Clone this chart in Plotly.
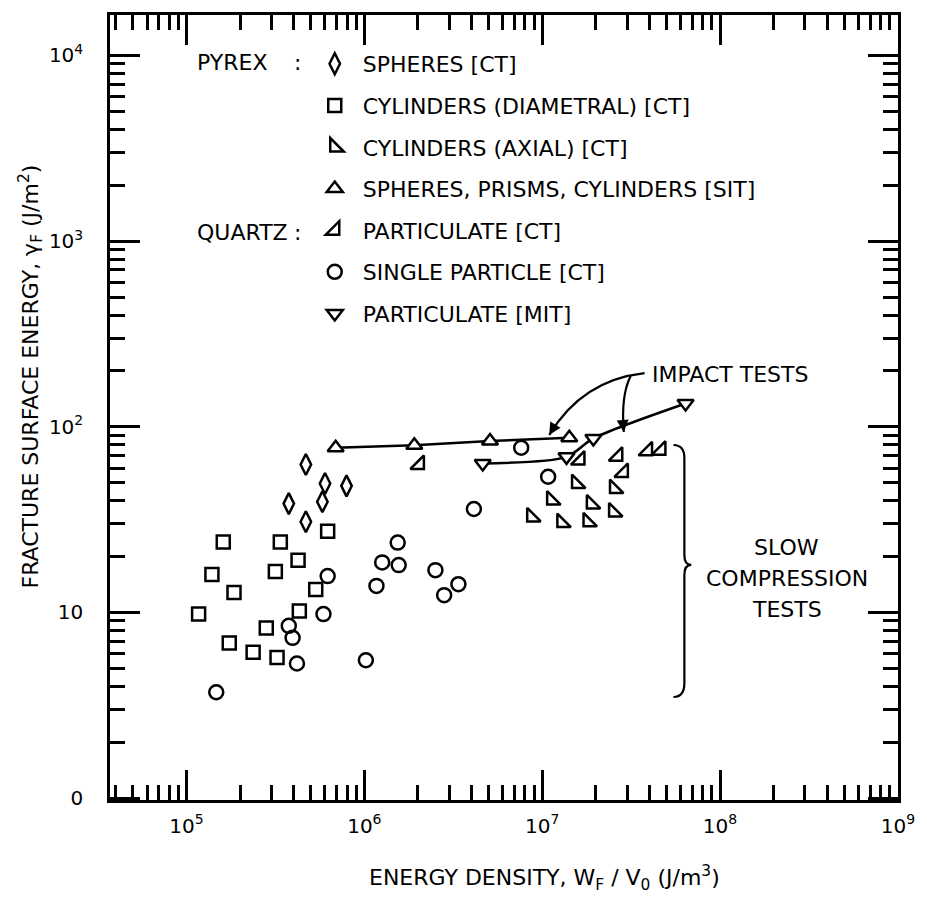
import plotly.graph_objects as go

# ---------------- data ----------------
# Pyrex : spheres [CT]
sph_x = [4.69e5, 6.01e5, 7.94e5, 3.76e5, 5.81e5, 4.69e5]
sph_y = [62.7, 49.5, 48.1, 38.6, 39.5, 30.8]

# Pyrex : cylinders (diametral) [CT]
cyld_x = [1.61e5, 3.37e5, 6.22e5, 4.24e5, 1.39e5, 3.16e5, 1.85e5, 5.33e5,
          1.17e5, 4.31e5, 2.81e5, 1.74e5, 2.37e5, 3.23e5]
cyld_y = [24.0, 24.0, 27.4, 19.1, 16.0, 16.6, 12.8, 13.3,
          9.8, 10.2, 8.26, 6.85, 6.11, 5.73]

# Pyrex : cylinders (axial) [CT]
cyla_x = [1.56e7, 1.13e7, 1.89e7, 2.55e7, 8.73e6, 1.29e7, 1.81e7, 2.52e7]
cyla_y = [49.5, 40.3, 38.4, 46.5, 32.7, 30.5, 30.8, 34.8]

# Pyrex : spheres, prisms, cylinders [SIT]
sit_x = [6.90e5, 1.91e6, 5.09e6, 1.42e7]
sit_y = [77.1, 79.6, 83.8, 87.3]

# Quartz : particulate [CT]
qpct_x = [2.04e6, 1.63e7, 2.66e7, 2.86e7, 3.91e7, 4.65e7]
qpct_y = [62.7, 66.2, 69.5, 56.8, 74.3, 74.8]

# Quartz : single particle [CT]
sp_x = [1.47e5, 3.76e5, 3.95e5, 4.18e5, 5.89e5, 6.22e5, 1.02e6, 1.17e6, 1.26e6,
        1.56e6, 1.54e6, 2.51e6, 2.81e6, 3.38e6, 4.13e6, 7.62e6, 1.08e7]
sp_y = [3.72, 8.47, 7.30, 5.31, 9.8, 15.7, 5.53, 13.9, 18.6,
        18.0, 23.8, 16.9, 12.4, 14.2, 36.1, 77.1, 53.8]

# Quartz : particulate [MIT]
mit_x = [4.63e6, 1.37e7, 1.94e7, 6.40e7]
mit_y = [63.5, 68.9, 86.6, 133.6]

# axis ticks
x_tickvals = [1e5, 1e6, 1e7, 1e8, 1e9]
x_ticktext = ["10<sup>5</sup>", "10<sup>6</sup>", "10<sup>7</sup>", "10<sup>8</sup>", "10<sup>9</sup>"]
y_tickvals = [1, 10, 100, 1000, 10000]
y_ticktext = ["0", "10", "10<sup>2</sup>", "10<sup>3</sup>", "10<sup>4</sup>"]
x_minor = [m * 10 ** e for e in range(4, 9) for m in range(2, 10) if m * 10 ** e > 3.7e4]
y_minor = [m * 10 ** e for e in range(0, 5) for m in range(2, 10) if m * 10 ** e < 1.7e4]

FONT = "DejaVu Sans, Liberation Sans, sans-serif"
W, H = 927, 898
L, R, T, B = 110, 903, 15, 800


def px(xp):
    return (xp - L) / (R - L)


def py(yp):
    return (B - yp) / (B - T)


fig = go.Figure()

# connecting lines (impact tests)
fig.add_trace(go.Scatter(x=sit_x, y=sit_y, mode="lines", showlegend=False, hoverinfo="skip",
                         line=dict(color="black", width=2.5)))
fig.add_trace(go.Scatter(x=mit_x, y=mit_y, mode="lines", showlegend=False, hoverinfo="skip",
                         line=dict(color="black", width=2.5, shape="spline", smoothing=0.8)))

series = [
    ("SPHERES [CT]", sph_x, sph_y, "diamond-tall-open", 15, "black"),
    ("CYLINDERS (DIAMETRAL) [CT]", cyld_x, cyld_y, "square-open", 13, "black"),
    ("CYLINDERS (AXIAL) [CT]", cyla_x, cyla_y, "triangle-sw-open", 15, "black"),
    ("SPHERES, PRISMS, CYLINDERS [SIT]", sit_x, sit_y, "triangle-up", 14, "white"),
    ("PARTICULATE [CT]", qpct_x, qpct_y, "triangle-se-open", 15, "black"),
    ("SINGLE PARTICLE [CT]", sp_x, sp_y, "circle-open", 14, "black"),
    ("PARTICULATE [MIT]", mit_x, mit_y, "triangle-down", 14, "white"),
]
for i, (name, xs, ys, sym, size, fill) in enumerate(series):
    fig.add_trace(go.Scatter(
        x=xs, y=ys, mode="markers", name=name, legendgroup="g%d" % i,
        marker=dict(symbol=sym, size=size, color=fill if fill == "white" else "black",
                    line=dict(color="black", width=2.5)),
    ))

axis_common = dict(
    type="log", showgrid=False, zeroline=False,
    showline=True, linecolor="black", linewidth=2.5, mirror="ticks",
    ticks="inside", ticklen=30, tickwidth=2.5, tickcolor="black",
    tickmode="array", tickfont=dict(family=FONT, size=20, color="black"),
)

fig.update_xaxes(**axis_common, range=[4.57, 9.0005], tickvals=x_tickvals, ticktext=x_ticktext,
                 ticklabelstandoff=6,
                 minor=dict(tickmode="array", tickvals=x_minor, ticks="inside", ticklen=15,
                            tickwidth=2.5, tickcolor="black", showgrid=False))
fig.update_yaxes(**axis_common, range=[-0.01, 4.218], tickvals=y_tickvals, ticktext=y_ticktext,
                 ticklabelstandoff=20,
                 minor=dict(tickmode="array", tickvals=y_minor, ticks="inside", ticklen=15,
                            tickwidth=2.5, tickcolor="black", showgrid=False))

ann_font = dict(family=FONT, size=22, color="black")
annotations = [
    dict(text="PYREX", x=px(196), y=py(63), xanchor="left"),
    dict(text=":", x=px(299), y=py(63), xanchor="center"),
    dict(text="QUARTZ", x=px(196), y=py(232), xanchor="left"),
    dict(text=":", x=px(299), y=py(232), xanchor="center"),
    dict(text="IMPACT TESTS", x=px(653), y=py(374), xanchor="left"),
    dict(text="SLOW", x=px(791), y=py(547), xanchor="center"),
    dict(text="COMPRESSION", x=px(791), y=py(578), xanchor="center"),
    dict(text="TESTS", x=px(791), y=py(609), xanchor="center"),
    dict(text="ENERGY DENSITY, W<sub>F</sub> / V<sub>0</sub> (J/m<sup>3</sup>)",
         x=px(547), y=py(878), xanchor="center"),
    dict(text="FRACTURE SURFACE ENERGY, \u03b3<sub>F</sub> (J/m<sup>2</sup>)",
         x=px(30), y=py(377), xanchor="center", textangle=-90),
]
for a in annotations:
    fig.add_annotation(xref="paper", yref="paper", yanchor="middle", showarrow=False,
                       font=ann_font, **a)

# arrowheads for the "IMPACT TESTS" leaders
fig.add_annotation(xref="paper", yref="paper", x=px(552), y=py(435), ax=6, ay=-10, text="",
                   showarrow=True, arrowhead=2, arrowsize=1.2, arrowwidth=2, arrowcolor="black")
fig.add_annotation(xref="paper", yref="paper", x=px(627), y=py(432), ax=-1, ay=-11, text="",
                   showarrow=True, arrowhead=2, arrowsize=1.2, arrowwidth=2, arrowcolor="black")


def path(pts_cmds):
    out = []
    for cmd, pts in pts_cmds:
        out.append(cmd + " ".join("%.4f,%.4f" % (px(a), py(b)) for a, b in pts))
    return " ".join(out)


leader1 = path([("M", [(648, 373)]), ("Q", [(585, 380), (552, 435)])])
leader2 = path([("M", [(634, 376)]), ("Q", [(624, 395), (627, 432)])])
brace = path([
    ("M", [(677, 445)]), ("Q", [(688, 445), (688, 458)]),
    ("L", [(688, 555)]), ("Q", [(688, 565), (695, 565)]),
    ("Q", [(688, 565), (688, 575)]), ("L", [(688, 683)]),
    ("Q", [(688, 697), (677, 697)]),
])
for p in (leader1, leader2, brace):
    fig.add_shape(type="path", xref="paper", yref="paper", path=p,
                  line=dict(color="black", width=2.2))

fig.update_layout(
    width=W, height=H,
    margin=dict(l=L, r=W - R, t=T, b=H - B),
    paper_bgcolor="white", plot_bgcolor="white",
    font=dict(family=FONT, size=22, color="black"),
    legend=dict(x=px(308), y=py(43), xanchor="left", yanchor="top",
                bgcolor="rgba(0,0,0,0)", borderwidth=0,
                traceorder="grouped", tracegroupgap=10, itemwidth=46,
                font=dict(family=FONT, size=22, color="black")),
    showlegend=True,
)

fig.write_html("out.html")
